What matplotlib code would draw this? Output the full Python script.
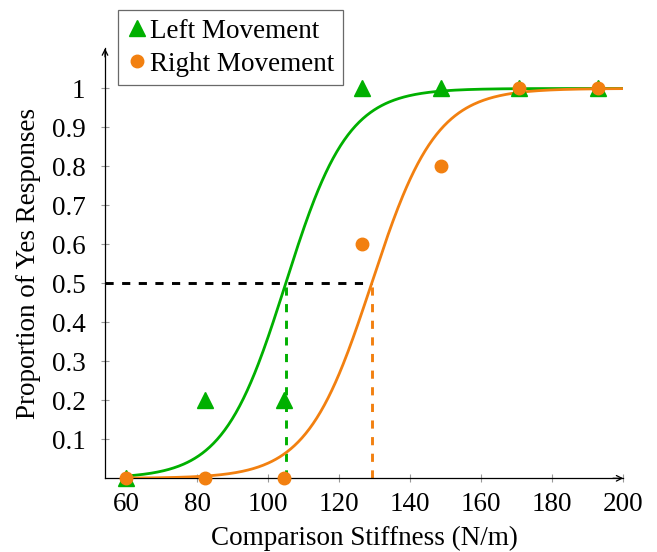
import numpy as np
import matplotlib.pyplot as plt

plt.rcParams['font.family'] = ['Liberation Serif', 'DejaVu Serif']
plt.rcParams['mathtext.fontset'] = 'stix'

# measured data
stiff = [60, 82.1, 104.3, 126.4, 148.6, 170.7, 192.9]
left_yes = [0.0, 0.2, 0.2, 1.0, 1.0, 1.0, 1.0]
right_yes = [0.0, 0.0, 0.0, 0.6, 0.8, 1.0, 1.0]

# fitted psychometric curves (logistic): PSE and slope
left_pse, left_k = 104.9, 0.114
right_pse, right_k = 129.1, 0.110

green = '#00b000'
orange = '#f28010'
fs = 19.5

xx = np.linspace(60, 200, 400)
left_fit = 1 / (1 + np.exp(-left_k * (xx - left_pse)))
right_fit = 1 / (1 + np.exp(-right_k * (xx - right_pse)))

fig = plt.figure(figsize=(6.57, 5.52), dpi=100)
ax = fig.add_axes([105/657, 1 - 478.3/552, (623.3-105)/657, (478.3-48.3)/552])

ax.plot(xx, left_fit, color=green, lw=2.0, zorder=3)
ax.plot(xx, right_fit, color=orange, lw=2.0, zorder=3)

dash = (0, (2.8, 2.9))
ax.plot([54, right_pse], [0.5, 0.5], color='k', lw=2.1, ls=dash, zorder=2)
ax.plot([left_pse, left_pse], [0, 0.5], color=green, lw=2.1, ls=dash, zorder=2)
ax.plot([right_pse, right_pse], [0, 0.5], color=orange, lw=2.1, ls=dash, zorder=2)

ax.plot(stiff, left_yes, ls='none', marker='^', ms=12, color=green,
        label='Left Movement', zorder=4, clip_on=False)
ax.plot(stiff, right_yes, ls='none', marker='o', ms=9, color=orange,
        label='Right Movement', zorder=5, clip_on=False)

ax.set_xlim(54, 200)
ax.set_ylim(0, 1.103)

ax.set_xticks([60, 80, 100, 120, 140, 160, 180, 200])
yt = [0.1, 0.2, 0.3, 0.4, 0.5, 0.6, 0.7, 0.8, 0.9, 1.0]
ax.set_yticks(yt)
ax.set_yticklabels(['0.1', '0.2', '0.3', '0.4', '0.5', '0.6', '0.7', '0.8', '0.9', '1'])
ax.tick_params(direction='inout', length=6, width=0.8, color='#999999',
               labelsize=fs)
ax.tick_params(axis='y', pad=11)
ax.tick_params(axis='x', pad=7)

for s in ['top', 'right']:
    ax.spines[s].set_visible(False)
for s in ['left', 'bottom']:
    ax.spines[s].set_linewidth(0.9)

ax.annotate('', xy=(1.0, 0), xytext=(0.98, 0), xycoords='axes fraction',
            arrowprops=dict(arrowstyle='->', lw=0.9, color='k', shrinkA=0, shrinkB=0))
ax.annotate('', xy=(0, 1.0), xytext=(0, 0.98), xycoords='axes fraction',
            arrowprops=dict(arrowstyle='->', lw=0.9, color='k', shrinkA=0, shrinkB=0))

ax.set_xlabel('Comparison Stiffness (N/m)', fontsize=fs, labelpad=6)
ax.set_ylabel('Proportion of Yes Responses', fontsize=fs, labelpad=8)

leg = fig.legend(loc='upper left', bbox_to_anchor=(118/657, 1 - 10/552),
                 fontsize=fs, frameon=True, fancybox=False, handlelength=0.75,
                 handletextpad=0.12, borderpad=0.32, labelspacing=0.3,
                 borderaxespad=0)
leg.get_frame().set_edgecolor('#444444')
leg.get_frame().set_linewidth(0.9)

fig.savefig('out.png', dpi=100)
